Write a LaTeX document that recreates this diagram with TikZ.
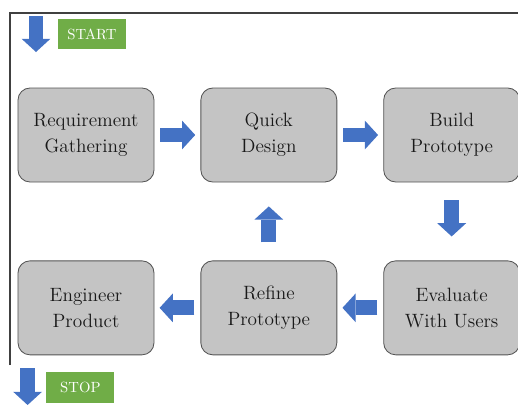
\documentclass[tikz,border=0pt]{standalone}
\usetikzlibrary{positioning,arrows.meta}

\definecolor{stagefill}{RGB}{196,196,196}
\definecolor{stageline}{RGB}{85,85,85}
\definecolor{flowblue}{RGB}{68,114,196}
\definecolor{tagkgreen}{RGB}{112,173,71}

\begin{document}
\begin{tikzpicture}[
    node distance=1.15cm,
    stage/.style={rectangle, draw=stageline, line width=0.6pt, fill=stagefill, rounded corners=0.3cm,
        minimum width=3.4cm, minimum height=2.35cm, inner sep=0pt, align=center,
        text=black!90, font=\fontsize{13.7}{18.5}\selectfont},
    tag/.style={rectangle, fill=tagkgreen, text=white, minimum width=1.7cm, minimum height=0.76cm,
        inner sep=0pt, font=\fontsize{10.5}{12}\selectfont},
    flow/.style={line width=0.37cm, draw=flowblue, -{Triangle[width=0.72cm, length=0.33cm, line width=0pt]}},
    hflow/.style={flow, shorten <=0.15cm, shorten >=0.13cm},
    vflow/.style={flow, shorten <=0.45cm, shorten >=0.6cm},
    frame/.style={draw=black!75, line width=1.1pt}
]
\useasboundingbox (0,0) rectangle (12.95,-10.125);

% --- Frame ---
\draw[frame] (0.25,-9.125) |- (12.95,-0.325);

% --- Start / stop ---
\node[tag] (start) at (2.3,-0.85) {START};
\coordinate (start top) at (0.9,-0.4);
\coordinate (start tip) at (0.9,-1.3);
\draw[flow] (start top) -- (start tip);

\node[tag] (stop) at (2.01,-9.69) {STOP};
\coordinate (stop top) at (0.69,-9.2);
\coordinate (stop tip) at (0.69,-10.125);
\draw[flow] (stop top) -- (stop tip);

% --- Stages ---
\node[stage] (rg) at (2.15,-3.375) {Requirement\\Gathering};
\node[stage, right=of rg] (qd) {Quick\\Design};
\node[stage, right=of qd] (bp) {Build\\Prototype};
\node[stage, below=1.95cm of bp] (eu) {Evaluate\\With Users};
\node[stage, left=of eu] (rp) {Refine\\Prototype};
\node[stage, left=of rp] (ep) {Engineer\\Product};

\draw[hflow] (rg) -- (qd);
\draw[hflow] (qd) -- (bp);
\draw[vflow] (bp) -- (eu);
\draw[hflow] (eu) -- (rp);
\draw[vflow] (rp) -- (qd);
\draw[hflow] (rp) -- (ep);

\end{tikzpicture}
\end{document}
